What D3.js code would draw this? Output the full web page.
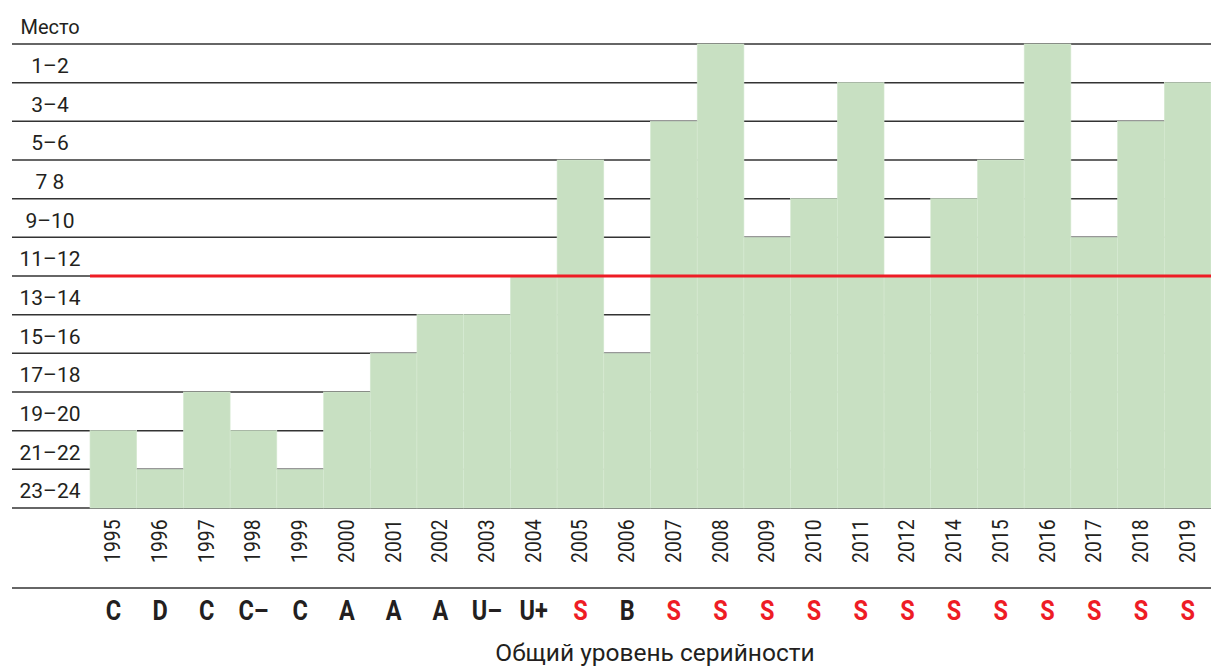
<!DOCTYPE html>
<html>
<head>
<meta charset="utf-8">
<script src="https://cdn.jsdelivr.net/npm/d3@7"></script>
<style>
  body { margin: 0; background: #fff; }
  svg text { font-family: "Roboto", "Liberation Sans", sans-serif; fill: #231f20; }
</style>
</head>
<body>
<div id="chart"></div>
<script>
/* CONSTANTS AND GLOBALS */
const width = 1211,
  height = 668,
  margin = { top: 44, bottom: 160, left: 90, right: 0 },
  gridLeft = 12,
  green = "#c8e0c2",
  red = "#ee1c25";

/* DATA */
const years = ["1995", "1996", "1997", "1998", "1999", "2000", "2001", "2002", "2003", "2004",
  "2005", "2006", "2007", "2008", "2009", "2010", "2011", "2012", "2014", "2015",
  "2016", "2017", "2018", "2019"];

const places = ["1–2", "3–4", "5–6", "7 8", "9–10", "11–12", "13–14", "15–16",
  "17–18", "19–20", "21–22", "23–24"];

// best place bracket reached each year
const results = ["21–22", "23–24", "19–20", "21–22", "23–24", "19–20", "17–18", "15–16",
  "15–16", "13–14", "7 8", "17–18", "5–6", "1–2", "11–12", "9–10", "3–4", "13–14",
  "9–10", "7 8", "1–2", "11–12", "5–6", "3–4"];

// overall series level
const series = ["C", "D", "C", "C–", "C", "A", "A", "A", "U–", "U+", "S", "B", "S", "S",
  "S", "S", "S", "S", "S", "S", "S", "S", "S", "S"];

const cutoff = "13–14"; // red line sits on top of this bracket
const axisTitle = "Место";
const bottomTitle = "Общий уровень серийности";

/* SCALES */
const xScale = d3.scaleBand()
  .domain(years)
  .range([margin.left, width - margin.right]);

const yScale = d3.scaleBand()
  .domain(places)
  .range([margin.top, 508]);

const yBottom = yScale.range()[1];

const svg = d3.select("#chart")
  .append("svg")
  .attr("width", width)
  .attr("height", height);

// grid lines (one at the top of each bracket, plus the bottom one)
const gridYs = places.map(p => yScale(p)).concat([yBottom]);
svg.append("g")
  .selectAll("line")
  .data(gridYs)
  .join("line")
  .attr("x1", gridLeft)
  .attr("x2", width)
  .attr("y1", d => d)
  .attr("y2", d => d)
  .attr("stroke", "#333")
  .attr("stroke-width", 1.5);

// bars
svg.append("g")
  .selectAll("rect")
  .data(years.map((y, i) => ({ year: y, place: results[i] })))
  .join("rect")
  .attr("x", d => xScale(d.year))
  .attr("width", xScale.bandwidth())
  .attr("y", d => yScale(d.place))
  .attr("height", d => yBottom - yScale(d.place))
  .attr("fill", green)
  .attr("stroke", "#d6e9d2")
  .attr("stroke-width", 0.6);

// red cutoff line
svg.append("line")
  .attr("x1", margin.left)
  .attr("x2", width)
  .attr("y1", yScale(cutoff))
  .attr("y2", yScale(cutoff))
  .attr("stroke", red)
  .attr("stroke-width", 3);

// y labels
svg.append("g")
  .selectAll("text")
  .data(places)
  .join("text")
  .attr("x", 50)
  .attr("y", d => yScale(d) + yScale.bandwidth() / 2 + 9.5)
  .attr("text-anchor", "middle")
  .attr("font-size", 21)
  .text(d => d);

svg.append("text")
  .attr("x", 50)
  .attr("y", 34)
  .attr("text-anchor", "middle")
  .attr("font-size", 20)
  .text(axisTitle);

// year labels, rotated
svg.append("g")
  .selectAll("text")
  .data(years)
  .join("text")
  .attr("transform", d => `translate(${xScale(d) + xScale.bandwidth() / 2 + 7}, 563) rotate(-90) scale(0.88, 1)`)
  .attr("font-size", 22)
  .text(d => d);

// separator line
svg.append("line")
  .attr("x1", gridLeft)
  .attr("x2", width)
  .attr("y1", 588)
  .attr("y2", 588)
  .attr("stroke", "#333")
  .attr("stroke-width", 1.5);

// series letters
svg.append("g")
  .selectAll("text")
  .data(years.map((y, i) => ({ year: y, s: series[i] })))
  .join("text")
  .attr("transform", d => `translate(${xScale(d.year) + xScale.bandwidth() / 2}, 620) scale(0.84, 1)`)
  .attr("text-anchor", "middle")
  .attr("font-size", 28)
  .attr("font-weight", "bold")
  .style("fill", d => d.s === "S" ? red : "#231f20")
  .text(d => d.s);

svg.append("text")
  .attr("x", 655)
  .attr("y", 661)
  .attr("text-anchor", "middle")
  .attr("font-size", 24.5)
  .text(bottomTitle);
</script>
</body>
</html>
